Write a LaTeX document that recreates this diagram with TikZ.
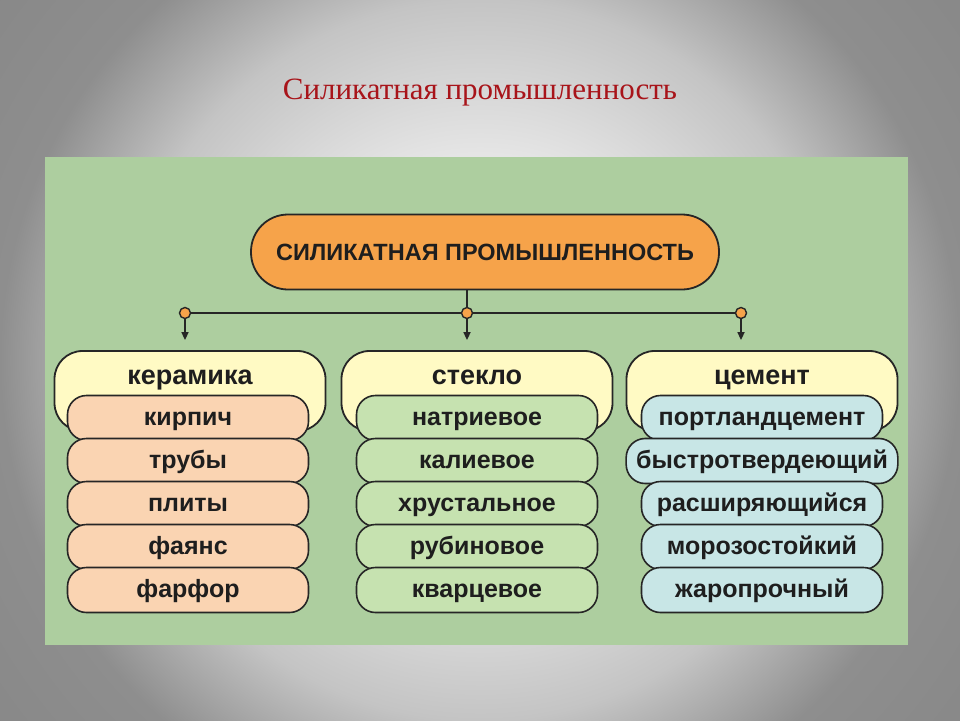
\documentclass[tikz,border=0pt]{standalone}
\usepackage{fontspec}
\setmainfont{Liberation Serif}
\newfontfamily\chartfont{Liberation Sans}
\usetikzlibrary{arrows.meta}

\definecolor{bgin}{RGB}{246,246,246}
\definecolor{bgmid}{RGB}{232,232,232}
\definecolor{bgedge}{RGB}{196,196,196}
\definecolor{bgout}{RGB}{142,142,142}
\definecolor{bgcorner}{RGB}{120,120,120}
\definecolor{panelgreen}{RGB}{173,206,159}
\definecolor{titlered}{RGB}{168,20,26}
\definecolor{mainorange}{RGB}{246,163,74}
\definecolor{catyellow}{RGB}{255,250,196}
\definecolor{peach}{RGB}{250,212,178}
\definecolor{glassgreen}{RGB}{198,226,176}
\definecolor{cementblue}{RGB}{200,230,230}
\definecolor{edge}{RGB}{38,38,38}
\definecolor{ink}{RGB}{30,30,30}

\pgfdeclareradialshading{slidebg}{\pgfpoint{0bp}{0bp}}{color(0bp)=(bgin); color(10bp)=(bgmid); color(18.75bp)=(bgedge); color(25bp)=(bgout); color(50bp)=(bgcorner)}

\tikzset{
  heading/.style={text=titlered, font=\fontsize{31}{35}\selectfont, inner sep=0pt, anchor=base},
  mainbox/.style={draw=edge, line width=1.8pt, fill=mainorange, rounded corners=37pt,
    minimum width=468pt, minimum height=75pt, text=ink,
    font=\chartfont\bfseries\fontsize{23.5}{28}\selectfont},
  catbox/.style={draw=edge, line width=1.8pt, fill=catyellow, rounded corners=28pt,
    minimum width=271pt, minimum height=80pt, inner sep=0pt},
  cattext/.style={text=ink, font=\chartfont\bfseries\fontsize{27}{31}\selectfont,
    anchor=base, yshift=-34pt, inner sep=0pt},
  itembox/.style={draw=edge, line width=1.6pt, rounded corners=19pt,
    minimum width=241pt, minimum height=45pt, inner xsep=10pt, inner ysep=0pt,
    text height=20pt, text depth=5pt, text=ink,
    font=\chartfont\bfseries\fontsize{25}{29}\selectfont},
  joint/.style={circle, draw=edge, line width=1.4pt, fill=mainorange, minimum size=11pt, inner sep=0pt},
  conn/.style={draw=edge, line width=1.6pt},
  tip/.style={-{Triangle[width=7pt,length=8pt]}, shorten >=10pt}
}

\begin{document}
\begin{tikzpicture}[x=1pt,y=-1pt]
\useasboundingbox (0,0) rectangle (960,720);
\begin{scope}
  \clip (0,0) rectangle (960,720);
  \shade[shading=slidebg] (0,-120) rectangle (960,840);
\end{scope}
\fill[panelgreen] (45,157) rectangle (908,645);

\node[heading] (title) at (480,99) {Силикатная промышленность};
\node[mainbox] (main) at (485,252) {СИЛИКАТНАЯ ПРОМЫШЛЕННОСТЬ};

\node[catbox, label={[cattext]north:керамика}] (ceram) at (190,391) {};
\node[catbox, label={[cattext]north:стекло}] (glass) at (477,391) {};
\node[catbox, label={[cattext]north:цемент}] (cement) at (762,391) {};

\node[itembox, fill=peach] (ceram1) at (188,418) {кирпич};
\node[itembox, fill=peach] (ceram2) at (188,461) {трубы};
\node[itembox, fill=peach] (ceram3) at (188,504) {плиты};
\node[itembox, fill=peach] (ceram4) at (188,547) {фаянс};
\node[itembox, fill=peach] (ceram5) at (188,590) {фарфор};

\node[itembox, fill=glassgreen] (glass1) at (477,418) {натриевое};
\node[itembox, fill=glassgreen] (glass2) at (477,461) {калиевое};
\node[itembox, fill=glassgreen] (glass3) at (477,504) {хрустальное};
\node[itembox, fill=glassgreen] (glass4) at (477,547) {рубиновое};
\node[itembox, fill=glassgreen] (glass5) at (477,590) {кварцевое};

\node[itembox, fill=cementblue] (cement1) at (762,418) {портландцемент};
\node[itembox, fill=cementblue] (cement2) at (762,461) {быстротвердеющий};
\node[itembox, fill=cementblue] (cement3) at (762,504) {расширяющийся};
\node[itembox, fill=cementblue] (cement4) at (762,547) {морозостойкий};
\node[itembox, fill=cementblue] (cement5) at (762,590) {жаропрочный};

\coordinate (jceram) at (185,313);
\coordinate (jglass) at (467,313);
\coordinate (jcement) at (741,313);

\draw[conn] (jceram) -- (jcement);
\draw[conn] (main.south -| jglass) -- (jglass);
\draw[conn, tip] (jceram) -- (jceram |- ceram.north);
\draw[conn, tip] (jglass) -- (jglass |- glass.north);
\draw[conn, tip] (jcement) -- (jcement |- cement.north);

\node[joint] (dceram) at (jceram) {};
\node[joint] (dglass) at (jglass) {};
\node[joint] (dcement) at (jcement) {};
\end{tikzpicture}
\end{document}
